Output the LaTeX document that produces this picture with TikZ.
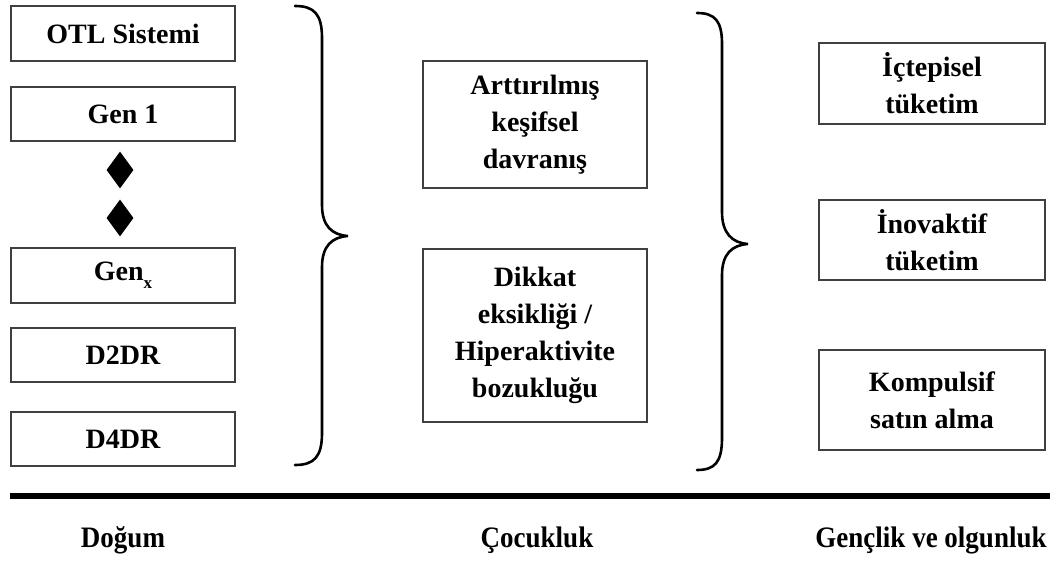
\documentclass[tikz,border=0pt]{standalone}
\usepackage{fontspec}
\setmainfont{Liberation Serif}
\usetikzlibrary{shapes.geometric}
\begin{document}
\begin{tikzpicture}[x=1pt,y=-1pt,
  box/.style={draw=black!75, line width=1.3pt, align=center, inner sep=0pt,
    font=\fontsize{28}{37}\bfseries\selectfont},
  leftbox/.style={box, minimum width=224pt},
  midbox/.style={box, minimum width=224pt},
  rightbox/.style={box, minimum width=226pt},
  gem/.style={diamond, fill=black, inner sep=0pt, minimum width=27pt, minimum height=37pt},
  brace/.style={line width=2.6pt, line cap=round},
  stage/.style={font=\fontsize{27}{30}\bfseries\selectfont, yscale=1.1}]
\useasboundingbox (0,0) rectangle (1062,561);

% birth column
\node[leftbox, minimum height=55pt] (otl) at (123,33.5) {OTL Sistemi};
\node[leftbox, minimum height=54pt] (gen1) at (123,114) {Gen 1};
\node[gem] (d1) at (120,170) {};
\node[gem] (d2) at (120,218) {};
\node[leftbox, minimum height=55pt] (genx) at (123,275.5) {Gen\raisebox{-0.3em}{\fontsize{17}{17}\bfseries\selectfont x}};
\node[leftbox, minimum height=54pt] (d2dr) at (123,355) {D2DR};
\node[leftbox, minimum height=54pt] (d4dr) at (123,439) {D4DR};

% childhood column
\node[midbox, minimum height=127pt] (kesif) at (535,124.5) {Arttırılmış\\keşifsel\\davranış};
\node[midbox, minimum height=173pt] (dehb) at (535,335.5) {Dikkat\\eksikliği /\\Hiperaktivite\\bozukluğu};

% youth and adulthood column
\node[rightbox, minimum height=81pt] (ic) at (932,83.5) {İçtepisel\\tüketim};
\node[rightbox, minimum height=80pt] (ino) at (932,240) {İnovaktif\\tüketim};
\node[rightbox, minimum height=100pt] (komp) at (932,400) {Kompulsif\\satın alma};

% braces
\draw[brace] (295,6) .. controls (314,6) and (322,14) .. (322,38) -- (322,205)
  .. controls (322,226) and (332,235) .. (348,236)
  .. controls (332,237) and (322,246) .. (322,267) -- (322,433)
  .. controls (322,457) and (314,465) .. (295,465);
\draw[brace] (697,13) .. controls (715,13) and (722,21) .. (722,44) -- (722,212)
  .. controls (722,233) and (732,243) .. (748,244)
  .. controls (732,245) and (722,254) .. (722,275) -- (722,438)
  .. controls (722,462) and (715,470) .. (697,470);

% time axis
\coordinate (axl) at (10,496);
\coordinate (axr) at (1050,496);
\draw[line width=5.5pt] (axl) -- (axr);

\node[stage] (dogum) at (123,540) {Doğum};
\node[stage] (cocuk) at (537,540) {Çocukluk};
\node[stage] (genc) at (931,540) {Gençlik ve olgunluk};
\end{tikzpicture}
\end{document}
